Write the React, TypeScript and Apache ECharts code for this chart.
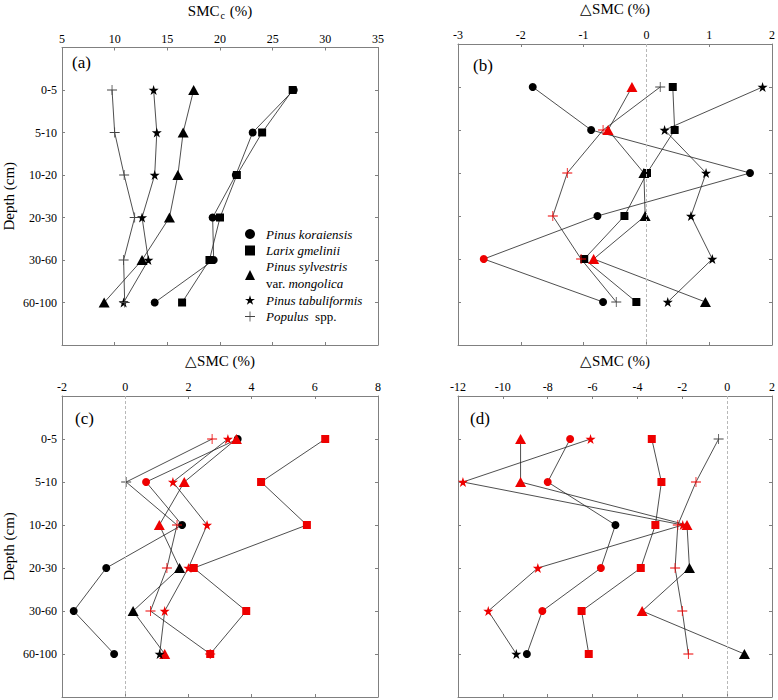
import React, { useEffect, useRef } from "react";
import * as echarts from "echarts";

const depths = ["0-5", "5-10", "10-20", "20-30", "30-60", "60-100"];
const species = [
  "Pinus koraiensis",
  "Larix gmelinii",
  "Pinus sylvestris var. mongolica",
  "Pinus tabuliformis",
  "Populus spp.",
];

// Panel (a): SMCc (%)
const aKoraiensis = [27.0, 23.1, 21.5, 19.3, 19.4, 13.8];
const aLarix = [26.9, 24.0, 21.6, 20.0, 19.0, 16.4];
const aSylvestris = [17.5, 16.5, 16.0, 15.2, 12.6, 9.0];
const aTabuliformis = [13.7, 14.0, 13.8, 12.6, 13.2, 10.85];
const aPopulus = [9.75, 10.0, 10.9, 11.9, 10.85, 10.95];

// Panel (b): ΔSMC (%)
const bKoraiensis = [-1.81, -0.88, 1.65, -0.78, -2.59, -0.69];
const bLarix = [0.42, 0.45, 0.01, -0.35, -0.99, -0.16];
const bSylvestris = [-0.23, -0.61, -0.04, -0.02, -0.84, 0.94];
const bTabuliformis = [1.85, 0.29, 0.95, 0.71, 1.05, 0.34];
const bPopulus = [0.22, -0.69, -1.26, -1.49, -1.04, -0.48];
const bKoraiensisSig = [0, 0, 0, 0, 1, 0];
const bLarixSig = [0, 0, 0, 0, 0, 0];
const bSylvestrisSig = [1, 1, 0, 0, 1, 0];
const bTabuliformisSig = [0, 0, 0, 0, 0, 0];
const bPopulusSig = [0, 1, 1, 1, 1, 0];

// Panel (c): ΔSMC (%)
const cKoraiensis = [3.56, 0.66, 1.8, -0.6, -1.63, -0.35];
const cLarix = [6.33, 4.3, 5.75, 2.17, 3.83, 2.69];
const cSylvestris = [3.52, 1.87, 1.08, 1.72, 0.25, 1.25];
const cTabuliformis = [3.25, 1.51, 2.59, 2.0, 1.25, 1.09];
const cPopulus = [2.75, 0.03, 1.64, 1.32, 0.8, 2.69];
const cKoraiensisSig = [0, 1, 0, 0, 0, 0];
const cLarixSig = [1, 1, 1, 1, 1, 1];
const cSylvestrisSig = [1, 1, 1, 0, 0, 1];
const cTabuliformisSig = [1, 1, 1, 1, 1, 0];
const cPopulusSig = [1, 0, 1, 1, 1, 1];

// Panel (d): ΔSMC (%)
const dKoraiensis = [-7.0, -8.0, -4.98, -5.63, -8.24, -8.93];
const dLarix = [-3.36, -2.93, -3.2, -3.85, -6.49, -6.17];
const dSylvestris = [-9.21, -9.21, -1.79, -1.68, -3.79, 0.77];
const dTabuliformis = [-6.09, -11.78, -1.98, -8.44, -10.65, -9.4];
const dPopulus = [-0.38, -1.39, -2.2, -2.32, -2.0, -1.73];
const dKoraiensisSig = [1, 1, 0, 1, 1, 0];
const dLarixSig = [1, 1, 1, 1, 1, 1];
const dSylvestrisSig = [1, 1, 1, 0, 1, 0];
const dTabuliformisSig = [1, 1, 1, 1, 1, 0];
const dPopulusSig = [0, 1, 1, 1, 1, 1];

const xRanges = [
  { min: 5, max: 35, interval: 5 },
  { min: -3, max: 2, interval: 1 },
  { min: -2, max: 8, interval: 2 },
  { min: -12, max: 2, interval: 2 },
];
const panelLabels = ["(a)", "(b)", "(c)", "(d)"];

const FONT = '"Liberation Serif", "Times New Roman", serif';
const RED = "#ee0000";
const BLACK = "#000000";
const AXIS_COLOR = "#808080";

const STAR =
  "path://M5,0L6.123,3.455L9.755,3.455L6.817,5.59L7.939,9.045L5,6.91L2.061,9.045L3.183,5.59L0.245,3.455L3.877,3.455Z";
const PLUS = "path://M4.6,0H5.4V10H4.6Z M0,4.6H10V5.4H0Z";
const symbols = ["circle", "rect", "triangle", STAR, PLUS];
const symbolSizes: any[] = [8, 8, [11, 10], 10, 10];

const grids = [
  { left: 62, top: 43, width: 316, height: 302 },
  { left: 458, top: 43, width: 315, height: 302 },
  { left: 62, top: 396, width: 316, height: 301 },
  { left: 458, top: 396, width: 315, height: 301 },
];

export default function App() {
  const ref = useRef<HTMLDivElement>(null);

  useEffect(() => {
    if (!ref.current) return;
    const chart = echarts.init(ref.current, undefined, { renderer: "svg" });

    const panelValues = [
      [aKoraiensis, aLarix, aSylvestris, aTabuliformis, aPopulus],
      [bKoraiensis, bLarix, bSylvestris, bTabuliformis, bPopulus],
      [cKoraiensis, cLarix, cSylvestris, cTabuliformis, cPopulus],
      [dKoraiensis, dLarix, dSylvestris, dTabuliformis, dPopulus],
    ];
    const zeros = [0, 0, 0, 0, 0, 0];
    const panelSig = [
      [zeros, zeros, zeros, zeros, zeros],
      [bKoraiensisSig, bLarixSig, bSylvestrisSig, bTabuliformisSig, bPopulusSig],
      [cKoraiensisSig, cLarixSig, cSylvestrisSig, cTabuliformisSig, cPopulusSig],
      [dKoraiensisSig, dLarixSig, dSylvestrisSig, dTabuliformisSig, dPopulusSig],
    ];

    const xAxes: any[] = [];
    const yAxes: any[] = [];
    const series: any[] = [];

    const tickCommon = {
      axisLine: { show: true, onZero: false, lineStyle: { color: AXIS_COLOR, width: 1 } },
      axisTick: { show: true, inside: true, length: 3, lineStyle: { color: AXIS_COLOR } },
      splitLine: { show: false },
    };

    for (let g = 0; g < 4; g++) {
      const r = xRanges[g];
      const isA = g === 0;
      xAxes.push({
        gridIndex: g,
        type: "value",
        position: "top",
        min: r.min,
        max: r.max,
        interval: r.interval,
        name: isA ? "{m|SMC}{sub|c}{m| (%)}" : "△SMC (%)",
        nameLocation: "middle",
        nameGap: 28,
        nameTextStyle: {
          fontFamily: FONT,
          fontSize: 15,
          color: "#000",
          rich: {
            m: { fontFamily: FONT, fontSize: 15, color: "#000", lineHeight: 18 },
            sub: { fontFamily: FONT, fontSize: 10, color: "#000", lineHeight: 18, padding: [9, 1, 0, 1] },
          },
        },
        ...tickCommon,
        axisLabel: {
          show: true,
          margin: 3,
          fontFamily: FONT,
          fontSize: 12,
          color: "#000",
          showMinLabel: true,
          showMaxLabel: true,
        },
      });
      xAxes.push({
        gridIndex: g,
        type: "value",
        position: "bottom",
        min: r.min,
        max: r.max,
        interval: r.interval,
        ...tickCommon,
        axisLabel: { show: false },
      });
      const showY = g === 0 || g === 2;
      yAxes.push({
        gridIndex: g,
        type: "value",
        position: "left",
        min: 0,
        max: depths.length + 1,
        interval: 1,
        inverse: true,
        name: showY ? "Depth (cm)" : "",
        nameLocation: "middle",
        nameGap: 46,
        nameTextStyle: { fontFamily: FONT, fontSize: 15, color: "#000" },
        ...tickCommon,
        axisLabel: {
          show: showY,
          margin: 5,
          fontFamily: FONT,
          fontSize: 12,
          color: "#000",
          formatter: (v: number) => depths[v - 1] ?? "",
        },
      });
      yAxes.push({
        gridIndex: g,
        type: "value",
        position: "right",
        min: 0,
        max: depths.length + 1,
        interval: 1,
        inverse: true,
        ...tickCommon,
        axisLabel: { show: false },
      });

      panelValues[g].forEach((vals, s) => {
        const sig = panelSig[g][s];
        const item: any = {
          type: "line",
          name: species[s],
          xAxisIndex: g * 2,
          yAxisIndex: g * 2,
          symbol: symbols[s],
          symbolSize: symbolSizes[s],
          showSymbol: true,
          lineStyle: { color: "#222", width: 0.8 },
          itemStyle: { color: s === 4 ? "#444" : BLACK },
          emphasis: { disabled: true },
          data: vals.map((v, i) => ({
            value: [v, i + 1],
            itemStyle: { color: sig[i] ? RED : s === 4 ? "#444" : BLACK },
          })),
        };
        if (g > 0 && s === 0) {
          item.markLine = {
            silent: true,
            symbol: "none",
            label: { show: false },
            lineStyle: { color: "#b8b8b8", type: [3, 2], width: 1 },
            data: [{ xAxis: 0 }],
          };
        }
        series.push(item);
      });
    }

    const legendFormat: Record<string, string> = {
      "Pinus koraiensis": "{i|Pinus koraiensis}",
      "Larix gmelinii": "{i|Larix gmelinii}",
      "Pinus sylvestris var. mongolica": "{i|Pinus sylvestris}\n{n|var. }{i|mongolica}",
      "Pinus tabuliformis": "{i|Pinus tabuliformis}",
      "Populus spp.": "{i|Populus}{n|  spp.}",
    };
    // vertical centre of each legend entry, and its number of text lines
    const legendCentres = [234, 250.5, 275, 300, 316.5];
    const legendLines = [1, 1, 2, 1, 1];
    const LH = 16.5;

    const legends = species.map((s, i) => ({
      show: true,
      orient: "vertical",
      left: 245,
      top: legendCentres[i] - (legendLines[i] * LH) / 2,
      padding: 0,
      itemGap: 0,
      itemWidth: 10,
      itemHeight: 10,
      selectedMode: false,
      data: [{ name: s, icon: symbols[i] }],
      formatter: (name: string) => legendFormat[name] ?? name,
      textStyle: {
        fontFamily: FONT,
        fontSize: 13,
        color: "#000",
        padding: [0, 0, 0, 6],
        lineHeight: LH,
        rich: {
          i: { fontFamily: FONT, fontSize: 13, fontStyle: "italic", color: "#000", lineHeight: LH },
          n: { fontFamily: FONT, fontSize: 13, color: "#000", lineHeight: LH },
        },
      },
    }));

    const panelLabelPos = [
      [72, 62],
      [473, 65],
      [75, 418],
      [470, 418],
    ];

    chart.setOption({
      animation: false,
      grid: grids.map((g) => ({ ...g, containLabel: false })),
      xAxis: xAxes,
      yAxis: yAxes,
      series,
      legend: legends,
      graphic: panelLabels.map((t, i) => ({
        type: "text",
        x: panelLabelPos[i][0],
        y: panelLabelPos[i][1],
        style: {
          text: t,
          fontFamily: FONT,
          fontSize: 17,
          fill: "#000",
          verticalAlign: "middle",
        },
      })),
    });

    return () => chart.dispose();
  }, []);

  return (
    <div
      ref={ref}
      style={{ position: "absolute", left: 0, top: 0, width: 778, height: 700, background: "#fff" }}
    />
  );
}
